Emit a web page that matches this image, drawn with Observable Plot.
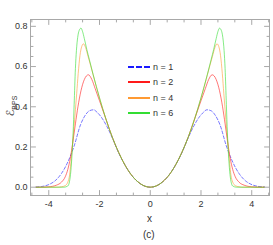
<!DOCTYPE html>
<html><head><meta charset="utf-8">
<script src="https://cdn.jsdelivr.net/npm/d3@7"></script>
<script src="https://cdn.jsdelivr.net/npm/@observablehq/plot@0.6"></script>
<style>
body{margin:0;background:#fff;}
#wrap{position:relative;width:273px;height:245px;font-family:"Liberation Sans",Arial,sans-serif;color:#333;}
#wrap svg{position:absolute;left:0;top:0;}
.ov{position:absolute;white-space:nowrap;line-height:1;}
.leg{position:absolute;left:128px;width:60px;height:12px;}
.leg span.ln{position:absolute;left:0;top:5px;width:22px;height:0;border-top:2px solid;}
.leg span.tx{position:absolute;left:25px;top:0;font-size:9px;line-height:12px;}
</style></head><body><div id="wrap"></div>
<script>
// ---- data ----
const seriesNames = ["n = 1", "n = 2", "n = 4", "n = 6"];
const seriesColors = ["#1a1aff", "#ff1a1a", "#ff9a33", "#33dd33"];

const x_n1 = [-4.5,-4.25,-4,-3.75,-3.5,-3.25,-3,-2.75,-2.55,-2.4,-2.23,-2.1,-1.95,-1.7,-1.45,-1.25,-1,-0.75,-0.5,-0.25,0,0.25,0.5,0.75,1,1.25,1.45,1.7,1.95,2.1,2.23,2.4,2.55,2.75,3,3.25,3.5,3.75,4,4.25,4.5];
const e_n1 = [0.001,0.004,0.013,0.032,0.068,0.125,0.205,0.31,0.36,0.38,0.385,0.373,0.352,0.30,0.232,0.172,0.111,0.062,0.028,0.007,0,0.007,0.028,0.062,0.111,0.172,0.232,0.30,0.352,0.373,0.385,0.38,0.36,0.31,0.205,0.125,0.068,0.032,0.013,0.004,0.001];

const x_n2 = [-4.5,-4.3,-4,-3.7,-3.5,-3.35,-3.25,-3.15,-3.05,-2.95,-2.85,-2.73,-2.6,-2.44,-2.3,-2.17,-2,-1.75,-1.5,-1.25,-1,-0.75,-0.5,-0.25,0,0.25,0.5,0.75,1,1.25,1.5,1.75,2,2.17,2.3,2.44,2.6,2.73,2.85,2.95,3.05,3.15,3.25,3.35,3.5,3.7,4,4.3,4.5];
const e_n2 = [0,0,0.002,0.01,0.025,0.052,0.088,0.145,0.225,0.315,0.40,0.48,0.535,0.559,0.535,0.49,0.43,0.34,0.25,0.174,0.111,0.062,0.028,0.007,0,0.007,0.028,0.062,0.111,0.174,0.25,0.34,0.43,0.49,0.535,0.559,0.535,0.48,0.40,0.315,0.225,0.145,0.088,0.052,0.025,0.01,0.002,0,0];

const x_n4 = [-4.5,-3.7,-3.5,-3.35,-3.25,-3.18,-3.13,-3.07,-3,-2.95,-2.9,-2.84,-2.77,-2.7,-2.63,-2.55,-2.45,-2.35,-2.2,-2,-1.75,-1.5,-1.25,-1,-0.75,-0.5,-0.25,0,0.25,0.5,0.75,1,1.25,1.5,1.75,2,2.2,2.35,2.45,2.55,2.63,2.7,2.77,2.84,2.9,2.95,3,3.07,3.13,3.18,3.25,3.35,3.5,3.7,4.5];
const e_n4 = [0,0,0.002,0.008,0.025,0.06,0.12,0.205,0.305,0.385,0.465,0.565,0.655,0.70,0.713,0.695,0.65,0.605,0.535,0.444,0.34,0.25,0.174,0.111,0.062,0.028,0.007,0,0.007,0.028,0.062,0.111,0.174,0.25,0.34,0.444,0.535,0.605,0.65,0.695,0.713,0.70,0.655,0.565,0.465,0.385,0.305,0.205,0.12,0.06,0.025,0.008,0.002,0,0];

const x_n6 = [-4.5,-3.4,-3.25,-3.18,-3.13,-3.08,-3.04,-3,-2.95,-2.91,-2.86,-2.8,-2.73,-2.67,-2.6,-2.5,-2.4,-2.25,-2,-1.75,-1.5,-1.25,-1,-0.75,-0.5,-0.25,0,0.25,0.5,0.75,1,1.25,1.5,1.75,2,2.25,2.4,2.5,2.6,2.67,2.73,2.8,2.86,2.91,2.95,3,3.04,3.08,3.13,3.18,3.25,3.4,4.5];
const e_n6 = [0,0,0.006,0.03,0.08,0.17,0.27,0.41,0.59,0.68,0.745,0.78,0.791,0.775,0.74,0.685,0.635,0.56,0.444,0.34,0.25,0.174,0.111,0.062,0.028,0.007,0,0.007,0.028,0.062,0.111,0.174,0.25,0.34,0.444,0.56,0.635,0.685,0.74,0.775,0.791,0.78,0.745,0.68,0.59,0.41,0.27,0.17,0.08,0.03,0.006,0,0];

const xTickLabels = [-4, -2, 0, 2, 4];
const xMinorTicks = [-4.667,-3.333,-2.667,-1.333,-0.667,0.667,1.333,2.667,3.333,4.667];
const yTickLabels = [0, 0.2, 0.4, 0.6, 0.8];
const yMinorTicks = [0.05,0.1,0.15,0.25,0.3,0.35,0.45,0.5,0.55,0.65,0.7,0.75];

// ---- build table ----
const xsAll = [x_n1, x_n2, x_n4, x_n6];
const esAll = [e_n1, e_n2, e_n4, e_n6];
const rows = [];
seriesNames.forEach((name, i) => xsAll[i].forEach((x, j) => rows.push({x, e: esAll[i][j], n: name})));

const frameColor = "#a8a8a8";
const tickShape = {draw(ctx, l) { ctx.moveTo(0, 0); ctx.lineTo(0, -l); }};
const ticks = (data, dim, anchor, rotate, len) => Plot.vector(data, {
  [dim]: d => d, frameAnchor: anchor, length: len, rotate, anchor: "start",
  shape: tickShape, stroke: frameColor, strokeWidth: 1
});

const lineMarks = seriesNames.map((name, i) => Plot.line(rows.filter(r => r.n === name), {
  x: "x", y: "e", stroke: seriesColors[i], strokeWidth: 1, strokeOpacity: 0.6,
  strokeDasharray: i === 0 ? "3,2" : null, curve: "monotone-x"
}));

const chart = Plot.plot({
  width: 273, height: 245,
  marginLeft: 30, marginRight: 4, marginTop: 19, marginBottom: 50,
  style: {fontFamily: "Liberation Sans, Arial, sans-serif", fontSize: "9px", background: "transparent"},
  x: {domain: [-4.72, 4.70]},
  y: {domain: [-0.0413, 0.834]},
  marks: [
    ...lineMarks,
    Plot.frame({stroke: frameColor}),
    ticks(xTickLabels, "x", "bottom", 0, 5),
    ticks(xMinorTicks, "x", "bottom", 0, 2.5),
    ticks(xTickLabels, "x", "top", 180, 5),
    ticks(xMinorTicks, "x", "top", 180, 2.5),
    ticks(yTickLabels, "y", "left", 90, 5),
    ticks(yMinorTicks, "y", "left", 90, 2.5),
    ticks(yTickLabels, "y", "right", -90, 5),
    ticks(yMinorTicks, "y", "right", -90, 2.5),
    Plot.axisX({ticks: xTickLabels, tickSize: 0, tickPadding: 5, tickFormat: d => String(d), label: null, color: "#333", fontSize: 9}),
    Plot.axisY({ticks: yTickLabels, tickSize: 0, tickPadding: 3, tickFormat: d => d.toFixed(1), label: null, color: "#333", fontSize: 9})
  ]
});
const wrap = document.getElementById("wrap");
wrap.appendChild(chart);

// axis titles and caption
const add = (html, css) => { const d = document.createElement("div"); d.className = "ov"; d.innerHTML = html; Object.assign(d.style, css); wrap.appendChild(d); return d; };
add("x", {left: "147px", top: "214px", fontSize: "10px"});
add("(c)", {left: "143px", top: "230px", fontSize: "10px"});
add('<span style="font-family:DejaVu Sans;font-size:11px">ℰ</span><span style="font-size:7px;position:relative;top:3px">BPS</span>',
    {left: "9px", top: "106px", transform: "translate(-50%,-50%) rotate(-90deg)"});

// legend
const legTops = [61, 76, 92, 107];
seriesNames.forEach((name, i) => {
  const d = document.createElement("div");
  d.className = "leg"; d.style.top = legTops[i] + "px";
  d.innerHTML = `<span class="ln" style="border-top-color:${seriesColors[i]};border-top-style:${i===0?"dashed":"solid"}"></span><span class="tx">${name}</span>`;
  wrap.appendChild(d);
});
</script></body></html>
